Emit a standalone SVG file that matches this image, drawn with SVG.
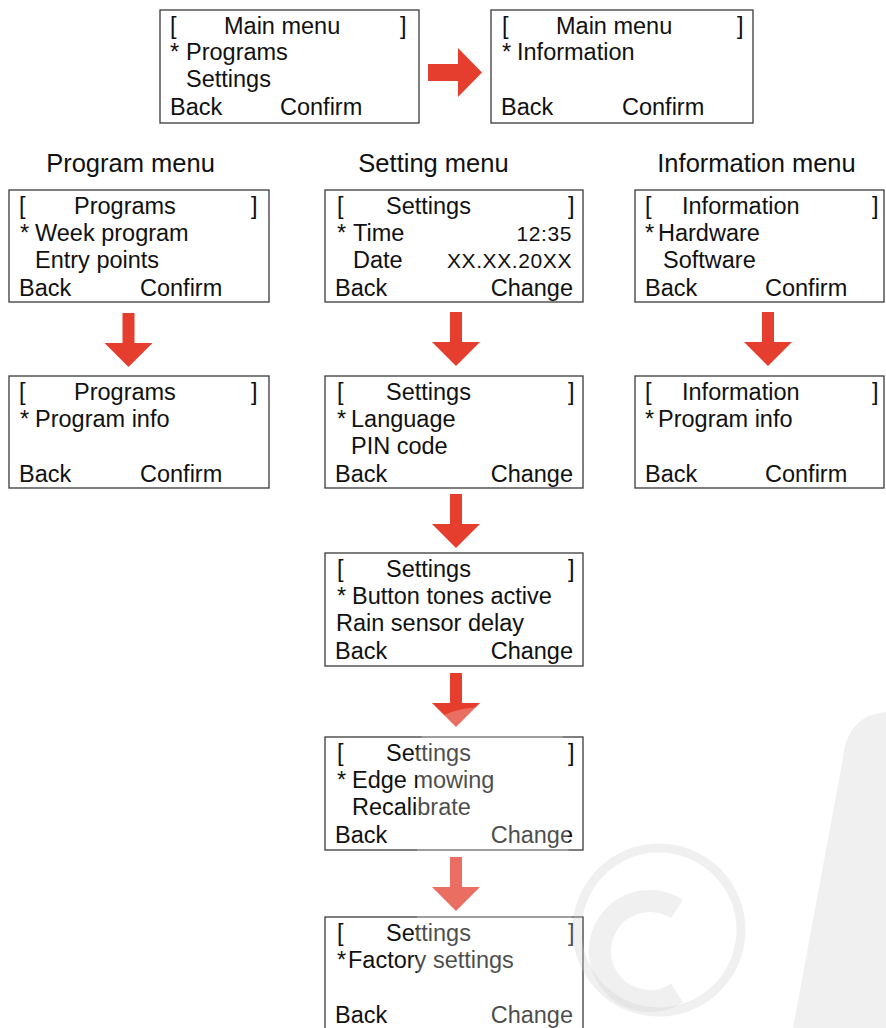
<svg xmlns="http://www.w3.org/2000/svg" width="886" height="1028" viewBox="0 0 886 1028">
<style>
.box{fill:#fff;stroke:#3a3a3a;stroke-width:1.3}
.t{font-family:"Liberation Sans",Arial,sans-serif;font-size:23.5px;fill:#111}
.n{font-family:"Liberation Sans",Arial,sans-serif;font-size:21px;letter-spacing:0.6px;fill:#111;text-anchor:end}
.e{text-anchor:end}
.h{font-family:"Liberation Sans",Arial,sans-serif;font-size:25.5px;fill:#111;text-anchor:middle}
.arr{fill:#e53e2e}
.wm{fill:#cfcfcf;opacity:0.32}
.wmr{fill:none;stroke:#cfcfcf;opacity:0.32}
.wmw{fill:#fff;opacity:0.25}
</style>
<defs>
<path id="ad" d="M -6 0 H 6 V 30 H 24 L 0 54 L -24 30 H -6 Z"/>
</defs>
<rect width="886" height="1028" fill="#fff"/>

<g id="headings">
<text class="h" x="130.5" y="172">Program menu</text>
<text class="h" x="433.5" y="172">Setting menu</text>
<text class="h" x="756.5" y="172">Information menu</text>
</g>

<g id="connectors">
<path class="arr" d="M 428 64 H 458 V 48 L 482 72.5 L 458 97 V 81 H 428 Z"/>
<use href="#ad" class="arr" x="128.5" y="313"/>
<use href="#ad" class="arr" x="456" y="312"/>
<use href="#ad" class="arr" x="768" y="312"/>
<use href="#ad" class="arr" x="456" y="494"/>
<use href="#ad" class="arr" x="456" y="673"/>
<use href="#ad" class="arr" x="456" y="857"/>
</g>

<g id="main1">
<rect class="box" x="160" y="10" width="259" height="113"/>
<text class="t" x="170" y="34">[</text><text class="t" x="224" y="34">Main menu</text><text class="t" x="400" y="34">]</text>
<text class="t" x="170" y="60">*</text><text class="t" x="186" y="60">Programs</text>
<text class="t" x="186" y="87">Settings</text>
<text class="t" x="170" y="115">Back</text><text class="t" x="280" y="115">Confirm</text>
</g>

<g id="main2">
<rect class="box" x="491" y="10" width="262" height="113"/>
<text class="t" x="502" y="34">[</text><text class="t" x="556" y="34">Main menu</text><text class="t" x="737" y="34">]</text>
<text class="t" x="502" y="60">*</text><text class="t" x="517" y="60">Information</text>
<text class="t" x="501" y="115">Back</text><text class="t" x="622" y="115">Confirm</text>
</g>

<g id="programs1">
<rect class="box" x="9" y="190" width="260" height="112"/>
<text class="t" x="19" y="214">[</text><text class="t" x="74" y="214">Programs</text><text class="t" x="251" y="214">]</text>
<text class="t" x="20" y="241">*</text><text class="t" x="35" y="241">Week program</text>
<text class="t" x="35" y="268">Entry points</text>
<text class="t" x="19" y="296">Back</text><text class="t" x="140" y="296">Confirm</text>
</g>

<g id="programs2">
<rect class="box" x="9" y="376" width="260" height="112"/>
<text class="t" x="19" y="400">[</text><text class="t" x="74" y="400">Programs</text><text class="t" x="251" y="400">]</text>
<text class="t" x="20" y="427">*</text><text class="t" x="35" y="427">Program info</text>
<text class="t" x="19" y="482">Back</text><text class="t" x="140" y="482">Confirm</text>
</g>

<g id="settings1">
<rect class="box" x="325" y="190" width="258" height="112"/>
<text class="t" x="337" y="214">[</text><text class="t" x="386" y="214">Settings</text><text class="t" x="568" y="214">]</text>
<text class="t" x="337" y="241">*</text><text class="t" x="353" y="241">Time</text><text class="n" x="572" y="241">12:35</text>
<text class="t" x="353" y="268">Date</text><text class="n" x="572" y="268">XX.XX.20XX</text>
<text class="t" x="335" y="296">Back</text><text class="t e" x="573" y="296">Change</text>
</g>

<g id="settings2">
<rect class="box" x="325" y="376" width="258" height="112"/>
<text class="t" x="337" y="400">[</text><text class="t" x="386" y="400">Settings</text><text class="t" x="568" y="400">]</text>
<text class="t" x="337" y="427">*</text><text class="t" x="351" y="427">Language</text>
<text class="t" x="351" y="454">PIN code</text>
<text class="t" x="335" y="482">Back</text><text class="t e" x="573" y="482">Change</text>
</g>

<g id="settings3">
<rect class="box" x="325" y="553" width="258" height="113"/>
<text class="t" x="337" y="577">[</text><text class="t" x="386" y="577">Settings</text><text class="t" x="568" y="577">]</text>
<text class="t" x="337" y="604">*</text><text class="t" x="352" y="604">Button tones active</text>
<text class="t" x="336" y="631">Rain sensor delay</text>
<text class="t" x="335" y="659">Back</text><text class="t e" x="573" y="659">Change</text>
</g>

<g id="settings4">
<rect class="box" x="325" y="737" width="258" height="113"/>
<text class="t" x="337" y="761">[</text><text class="t" x="386" y="761">Settings</text><text class="t" x="568" y="761">]</text>
<text class="t" x="337" y="788">*</text><text class="t" x="352" y="788">Edge mowing</text>
<text class="t" x="352" y="815">Recalibrate</text>
<text class="t" x="335" y="843">Back</text><text class="t e" x="573" y="843">Change</text>
</g>

<g id="settings5">
<rect class="box" x="325" y="917" width="258" height="116"/>
<text class="t" x="337" y="941">[</text><text class="t" x="386" y="941">Settings</text><text class="t" x="568" y="941">]</text>
<text class="t" x="337" y="968">*</text><text class="t" x="348" y="968">Factory settings</text>
<text class="t" x="335" y="1023">Back</text><text class="t e" x="573" y="1023">Change</text>
</g>

<g id="info1">
<rect class="box" x="635" y="190" width="249" height="112"/>
<text class="t" x="645" y="214">[</text><text class="t" x="682" y="214">Information</text><text class="t" x="872" y="214">]</text>
<text class="t" x="645" y="241">*</text><text class="t" x="658" y="241">Hardware</text>
<text class="t" x="663" y="268">Software</text>
<text class="t" x="645" y="296">Back</text><text class="t" x="765" y="296">Confirm</text>
</g>

<g id="info2">
<rect class="box" x="635" y="376" width="249" height="112"/>
<text class="t" x="645" y="400">[</text><text class="t" x="682" y="400">Information</text><text class="t" x="872" y="400">]</text>
<text class="t" x="645" y="427">*</text><text class="t" x="658" y="427">Program info</text>
<text class="t" x="645" y="482">Back</text><text class="t" x="765" y="482">Confirm</text>
</g>

<g id="watermark">
<path class="wmw" d="M 417 1028 L 417 755 C 420 725 440 712 470 708 C 510 704 545 708 562 716 L 566 800 L 578 1028 Z"/>
<circle class="wmr" cx="659" cy="930" r="82" stroke-width="9"/>
<path class="wmr" d="M 677 909 A 50 50 0 1 0 677 993" stroke-width="22"/>
<path class="wm" d="M 886 712 C 862 714 846 728 843 758 L 793 1028 L 886 1028 Z"/>
</g>
</svg>
